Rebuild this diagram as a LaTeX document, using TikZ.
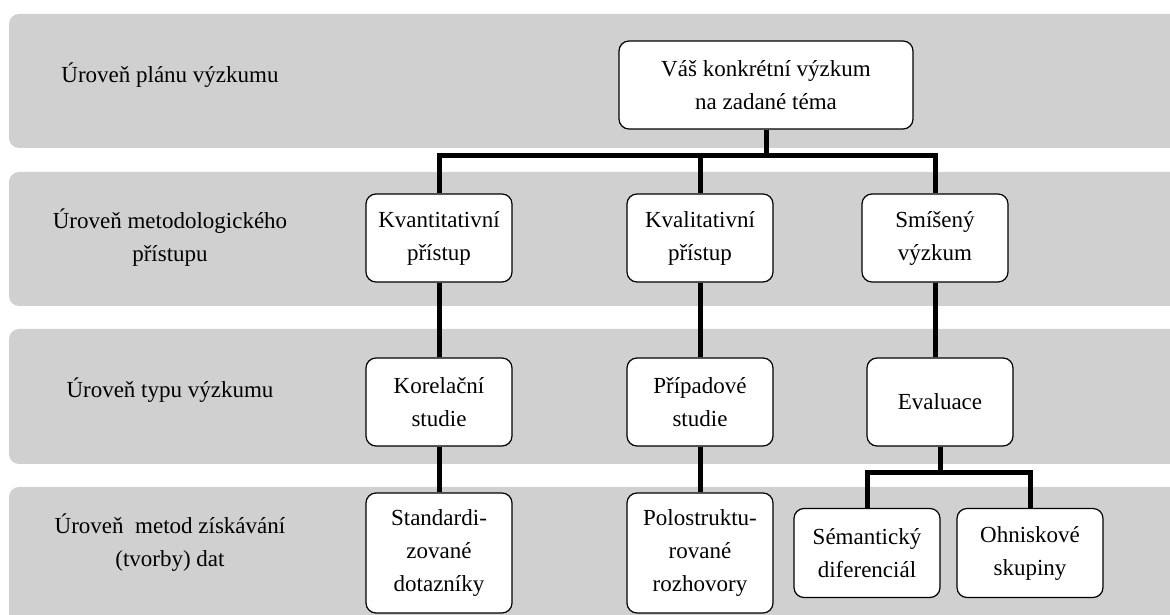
\documentclass[tikz,border=0pt]{standalone}
\usepackage{fontspec}
\setmainfont{Liberation Serif}
\usepackage{xcolor}
\usepackage{tikz}
\usetikzlibrary{shapes.geometric}
\definecolor{bandgray}{RGB}{208,208,208}
\tikzstyle{band} = [fill=bandgray, rounded corners=10pt]
\tikzstyle{level} = [align=center, font=\fontsize{23}{33}\selectfont]
\tikzstyle{process} = [rectangle, rounded corners=10pt, minimum width=146pt, minimum height=88pt, align=center, draw=black, line width=1.2pt, fill=white, font=\fontsize{23}{33}\selectfont]
\tikzstyle{link} = [line width=5pt]
\begin{document}
\begin{tikzpicture}[x=1pt, y=1pt, node distance=164pt]
\useasboundingbox (0,0) rectangle (1170,615);
\clip (0,0) rectangle (1170,615);
\fill [band] (9,467) rectangle (1200,601);
\fill [band] (9,309) rectangle (1200,443);
\fill [band] (9,151) rectangle (1200,286);
\fill [band] (9,-20) rectangle (1200,128);
\node (lev1) [level] at (170,540) {Úroveň plánu výzkumu};
\node (lev2) [level] at (170,377) {Úroveň metodologického\\přístupu};
\node (lev3) [level] at (170,225) {Úroveň typu výzkumu};
\node (lev4) [level] at (170,72) {Úroveň\ \ metod získávání\\(tvorby) dat};
\node (top) [process, minimum width=294pt] at (766,530) {Váš konkrétní výzkum\\na zadané téma};
\node (kvant) [process] at (439,377) {Kvantitativní\\přístup};
\node (kval) [process, right of = kvant, node distance=261pt] {Kvalitativní\\přístup};
\node (smis) [process, right of = kval, node distance=235pt] {Smíšený\\výzkum};
\node (korel) [process, below of = kvant] {Korelační\\studie};
\node (prip) [process, below of = kval] {Případové\\studie};
\node (eval) [process, below of = smis, xshift=5pt] {Evaluace};
\node (stand) [process, below of = korel, node distance=151pt, minimum height=120pt] {Standardi-\\zované\\dotazníky};
\node (polo) [process, below of = prip, node distance=151pt, minimum height=120pt] {Polostruktu-\\rované\\rozhovory};
\node (sem) [process, minimum height=89pt] at (867,62) {Sémantický\\diferenciál};
\node (ohn) [process, right of = sem, node distance=163pt, minimum height=89pt] {Ohniskové\\skupiny};
\coordinate [below of = top, node distance=71pt] (j1);
\coordinate [below of = eval, node distance=71pt] (j2);
\draw [link] (top) -- (j1);
\draw [link] (kvant.north) |- (j1) -| (smis.north);
\draw [link] (kval.north) -- (kval.north |- j1);
\draw [link] (kvant) -- (korel);
\draw [link] (kval) -- (prip);
\draw [link] (smis.south) -- (smis.south |- eval.north);
\draw [link] (korel) -- (stand);
\draw [link] (prip) -- (polo);
\draw [link] (eval) -- (j2);
\draw [link] (sem.north) |- (j2) -| (ohn.north);
\end{tikzpicture}
\end{document}
